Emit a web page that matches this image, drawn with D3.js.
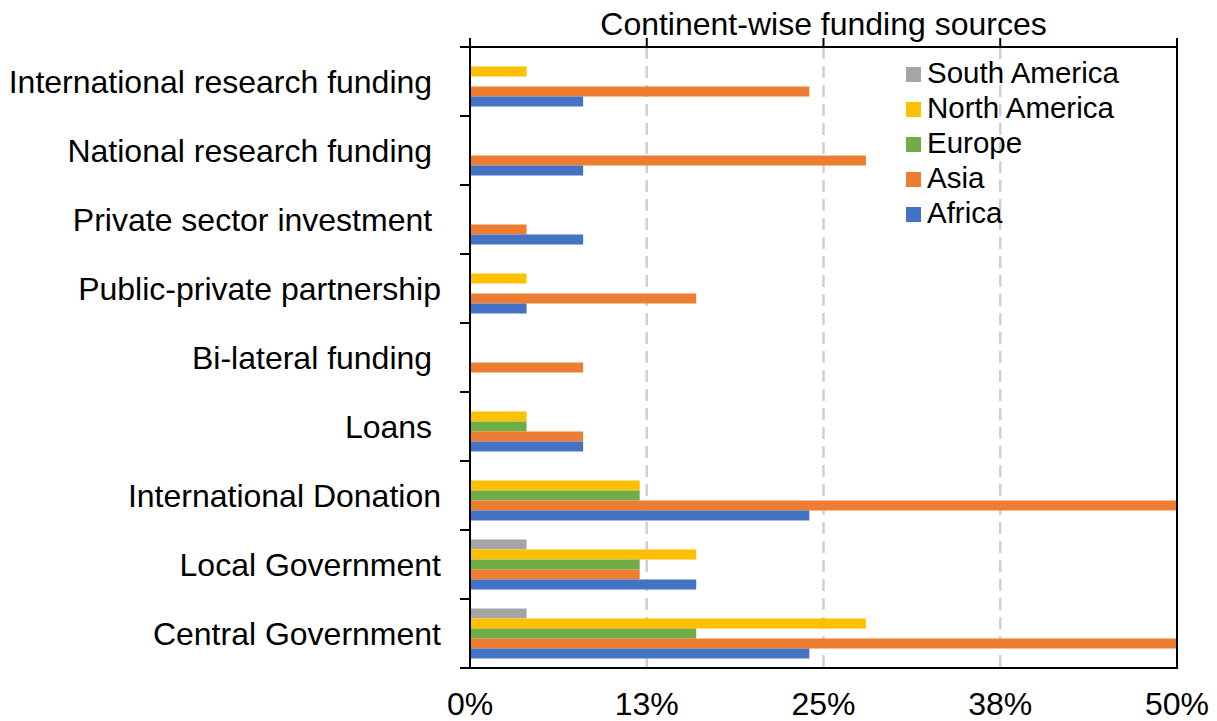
<!DOCTYPE html>
<html>
<head>
<meta charset="utf-8">
<script src="https://cdn.jsdelivr.net/npm/d3@7"></script>
<style>
  html, body { margin: 0; padding: 0; background: #fff; }
  svg { display: block; font-family: "Liberation Sans", Arial, sans-serif; }
  text { white-space: pre; }
</style>
</head>
<body>
<svg id="chart" width="1217" height="721"></svg>
<script>
// Funding sources, listed from top to bottom of the chart
const categories = [
  "International research funding ",
  "National research funding ",
  "Private sector investment ",
  "Public-private partnership",
  "Bi-lateral funding ",
  "Loans ",
  "International Donation",
  "Local Government",
  "Central Government"
];

// Share of studies (%) per continent, same order as categories
const africa       = [8, 8, 8, 4, 0, 8, 24, 16, 24];
const asia         = [24, 28, 4, 16, 8, 8, 50, 12, 50];
const europe       = [0, 0, 0, 0, 0, 4, 12, 12, 16];
const northAmerica = [4, 0, 0, 4, 0, 4, 12, 16, 28];
const southAmerica = [0, 0, 0, 0, 0, 0, 0, 4, 4];

// Legend / within-group order, top to bottom
const seriesNames  = ["South America", "North America", "Europe", "Asia", "Africa"];
const seriesValues = [southAmerica, northAmerica, europe, asia, africa];
const seriesColors = ["#A5A5A5", "#FFC000", "#70AD47", "#ED7D31", "#4472C4"];

const tickValues = [0, 12.5, 25, 37.5, 50];
const tickLabels = ["0%", "13%", "25%", "38%", "50%"];

const chartTitle = "Continent-wise funding sources";

const svg = d3.select("#chart");
const plotLeft = 470, plotRight = 1177, plotTop = 47, plotBottom = 668;

const x = d3.scaleLinear().domain([0, 50]).range([plotLeft, plotRight]).clamp(true);
const y = d3.scaleBand().domain(categories).range([plotTop, plotBottom]).paddingInner(0).paddingOuter(0);
const yInner = d3.scaleBand().domain(seriesNames).range([9.5, y.bandwidth() - 9.5]).padding(0);

// Dashed vertical gridlines
svg.append("g")
  .selectAll("line")
  .data(tickValues.filter(v => v > 0 && v < 50))
  .join("line")
  .attr("x1", d => x(d)).attr("x2", d => x(d))
  .attr("y1", plotTop).attr("y2", plotBottom)
  .attr("stroke", "#D0D0D0")
  .attr("stroke-width", 2.5)
  .attr("stroke-dasharray", "12,7");

// Bars
const rows = [];
categories.forEach((c, i) => {
  seriesNames.forEach((s, j) => {
    rows.push({ cat: c, series: s, value: seriesValues[j][i], color: seriesColors[j] });
  });
});

svg.append("g")
  .selectAll("rect")
  .data(rows.filter(d => d.value > 0))
  .join("rect")
  .attr("x", x(0))
  .attr("y", d => y(d.cat) + yInner(d.series))
  .attr("width", d => x(d.value) - x(0) + (d.value >= 50 ? 1 : 0))
  .attr("height", yInner.bandwidth())
  .attr("fill", d => d.color);

// Frame: left axis, bottom, top and right edges
const frame = svg.append("g").attr("stroke", "#000").attr("stroke-width", 2).attr("fill", "none");
frame.append("line").attr("x1", plotLeft).attr("x2", plotLeft).attr("y1", plotTop - 9).attr("y2", plotBottom + 1);
frame.append("line").attr("x1", plotLeft - 10).attr("x2", plotRight + 1).attr("y1", plotBottom).attr("y2", plotBottom);
frame.append("line").attr("x1", plotLeft - 10).attr("x2", plotRight + 1).attr("y1", plotTop).attr("y2", plotTop);
frame.append("line").attr("x1", plotRight).attr("x2", plotRight).attr("y1", plotTop - 9).attr("y2", plotBottom + 1);

// Category boundary ticks on the left axis
const bounds = categories.map(c => y(c)).concat([plotBottom]);
frame.selectAll("line.ytick")
  .data(bounds)
  .join("line")
  .attr("class", "ytick")
  .attr("x1", plotLeft - 10).attr("x2", plotLeft)
  .attr("y1", d => d).attr("y2", d => d);

// Upward ticks along the top edge
frame.selectAll("line.xtick")
  .data(tickValues)
  .join("line")
  .attr("class", "xtick")
  .attr("x1", d => x(d)).attr("x2", d => x(d))
  .attr("y1", plotTop - 9).attr("y2", plotTop);

// X tick labels
svg.append("g")
  .selectAll("text")
  .data(tickValues)
  .join("text")
  .attr("x", d => x(d))
  .attr("y", 715)
  .attr("text-anchor", "middle")
  .attr("font-size", 32)
  .attr("fill", "#000")
  .text((d, i) => tickLabels[i]);

// Category labels
svg.append("g")
  .selectAll("text")
  .data(categories)
  .join("text")
  .attr("x", 441)
  .attr("y", d => y(d) + y.bandwidth() / 2 + 11)
  .attr("text-anchor", "end")
  .attr("font-size", 32)
  .attr("fill", "#000")
  .text(d => d);

// Title
svg.append("text")
  .attr("x", (plotLeft + plotRight) / 2)
  .attr("y", 35)
  .attr("text-anchor", "middle")
  .attr("font-size", 32)
  .attr("fill", "#000")
  .text(chartTitle);

// Legend
const legend = svg.append("g")
  .selectAll("g")
  .data(seriesNames)
  .join("g")
  .attr("transform", (d, i) => `translate(906, ${83 + i * 35})`);
legend.append("rect")
  .attr("x", 0).attr("y", -16)
  .attr("width", 15).attr("height", 15)
  .attr("fill", (d, i) => seriesColors[i]);
legend.append("text")
  .attr("x", 21).attr("y", 0)
  .attr("font-size", 29.5)
  .attr("fill", "#000")
  .text(d => d);
</script>
</body>
</html>
